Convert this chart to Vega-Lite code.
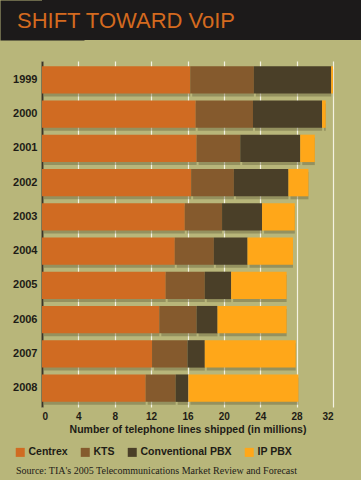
{
  "$schema": "https://vega.github.io/schema/vega-lite/v6.json",
  "background": "#b8b67a",
  "padding": {"left": 0, "top": 0, "right": 0, "bottom": 4},
  "config": {
    "view": {"stroke": null},
    "font": "Liberation Sans"
  },
  "columns": 1,
  "spacing": 21,
  "title": {
    "text": "Source: TIA's 2005 Telecommunications Market Review and Forecast",
    "orient": "bottom",
    "anchor": "start",
    "frame": "bounds",
    "font": "Liberation Serif",
    "fontSize": 10,
    "fontWeight": "normal",
    "color": "#222018",
    "dx": 16,
    "offset": 8
  },
  "concat": [
    {
      "width": 319,
      "height": 40,
      "data": {"values": [{"band": "header"}]},
      "mark": {"type": "rect", "color": "#1c1a1a"},
      "encoding": {
        "y": {
          "field": "band",
          "type": "nominal",
          "scale": {"paddingInner": 0, "paddingOuter": 0},
          "axis": {
            "title": null,
            "labels": false,
            "ticks": false,
            "domain": true,
            "domainColor": "#1c1a1a",
            "domainWidth": 84,
            "minExtent": 42,
            "maxExtent": 42,
            "zindex": 0
          }
        }
      },
      "title": {
        "text": "SHIFT TOWARD VoIP",
        "anchor": "start",
        "frame": "group",
        "font": "Liberation Sans",
        "fontSize": 22,
        "fontWeight": "normal",
        "color": "#d46a1f",
        "offset": -33,
        "dx": -25,
        "zindex": 2
      }
    },
    {
      "width": 291,
      "height": 346,
      "data": {
        "values": [
          {"year": "1999", "type": "Centrex", "start": 0, "end": 16.3},
          {"year": "1999", "type": "KTS", "start": 16.3, "end": 23.3},
          {"year": "1999", "type": "Conventional PBX", "start": 23.3, "end": 31.8},
          {"year": "1999", "type": "IP PBX", "start": 31.8, "end": 32.0},
          {"year": "2000", "type": "Centrex", "start": 0, "end": 16.9},
          {"year": "2000", "type": "KTS", "start": 16.9, "end": 23.2},
          {"year": "2000", "type": "Conventional PBX", "start": 23.2, "end": 30.8},
          {"year": "2000", "type": "IP PBX", "start": 30.8, "end": 31.2},
          {"year": "2001", "type": "Centrex", "start": 0, "end": 17.0},
          {"year": "2001", "type": "KTS", "start": 17.0, "end": 21.8},
          {"year": "2001", "type": "Conventional PBX", "start": 21.8, "end": 28.4},
          {"year": "2001", "type": "IP PBX", "start": 28.4, "end": 30.0},
          {"year": "2002", "type": "Centrex", "start": 0, "end": 16.4},
          {"year": "2002", "type": "KTS", "start": 16.4, "end": 21.1},
          {"year": "2002", "type": "Conventional PBX", "start": 21.1, "end": 27.1},
          {"year": "2002", "type": "IP PBX", "start": 27.1, "end": 29.3},
          {"year": "2003", "type": "Centrex", "start": 0, "end": 15.7},
          {"year": "2003", "type": "KTS", "start": 15.7, "end": 19.8},
          {"year": "2003", "type": "Conventional PBX", "start": 19.8, "end": 24.2},
          {"year": "2003", "type": "IP PBX", "start": 24.2, "end": 27.8},
          {"year": "2004", "type": "Centrex", "start": 0, "end": 14.6},
          {"year": "2004", "type": "KTS", "start": 14.6, "end": 18.9},
          {"year": "2004", "type": "Conventional PBX", "start": 18.9, "end": 22.6},
          {"year": "2004", "type": "IP PBX", "start": 22.6, "end": 27.6},
          {"year": "2005", "type": "Centrex", "start": 0, "end": 13.6},
          {"year": "2005", "type": "KTS", "start": 13.6, "end": 17.9},
          {"year": "2005", "type": "Conventional PBX", "start": 17.9, "end": 20.8},
          {"year": "2005", "type": "IP PBX", "start": 20.8, "end": 26.9},
          {"year": "2006", "type": "Centrex", "start": 0, "end": 12.9},
          {"year": "2006", "type": "KTS", "start": 12.9, "end": 17.0},
          {"year": "2006", "type": "Conventional PBX", "start": 17.0, "end": 19.3},
          {"year": "2006", "type": "IP PBX", "start": 19.3, "end": 26.9},
          {"year": "2007", "type": "Centrex", "start": 0, "end": 12.1},
          {"year": "2007", "type": "KTS", "start": 12.1, "end": 16.0},
          {"year": "2007", "type": "Conventional PBX", "start": 16.0, "end": 17.9},
          {"year": "2007", "type": "IP PBX", "start": 17.9, "end": 27.9},
          {"year": "2008", "type": "Centrex", "start": 0, "end": 11.4},
          {"year": "2008", "type": "KTS", "start": 11.4, "end": 14.7},
          {"year": "2008", "type": "Conventional PBX", "start": 14.7, "end": 16.1},
          {"year": "2008", "type": "IP PBX", "start": 16.1, "end": 28.2}
        ]
      },
      "encoding": {
        "y": {
          "field": "year",
          "type": "nominal",
          "scale": {"paddingInner": 0.2, "paddingOuter": 0.15},
          "axis": {
            "title": null,
            "ticks": false,
            "domain": true,
            "domainColor": "#3b3526",
            "domainWidth": 2,
            "labelFont": "Liberation Sans",
            "labelFontSize": 11,
            "labelFontWeight": "bold",
            "labelColor": "#1e1c16",
            "labelPadding": 5,
            "minExtent": 42,
            "maxExtent": 42
          }
        },
        "x": {
          "field": "start",
          "type": "quantitative",
          "scale": {"domain": [0, 32], "nice": false},
          "axis": {
            "title": "Number of telephone lines shipped (in millions)",
            "values": [0, 4, 8, 12, 16, 20, 24, 28, 32],
            "labelOverlap": false,
            "grid": true,
            "gridColor": "#f4f2e2",
            "gridWidth": 1.2,
            "gridOpacity": 1,
            "ticks": false,
            "domain": false,
            "labelFont": "Liberation Sans",
            "labelFontSize": 10,
            "labelFontWeight": "bold",
            "labelColor": "#1e1c16",
            "labelPadding": 4,
            "titleFont": "Liberation Sans",
            "titleFontSize": 10.5,
            "titleFontWeight": "bold",
            "titleColor": "#1e1c16",
            "titlePadding": 3
          }
        },
        "x2": {"field": "end"}
      },
      "layer": [
        {
          "mark": {"type": "bar", "color": "#5e5b38", "opacity": 0.4, "yOffset": 3, "xOffset": 2}
        },
        {
          "mark": {"type": "bar"},
          "encoding": {
            "color": {
              "field": "type",
              "type": "nominal",
              "scale": {
                "domain": ["Centrex", "KTS", "Conventional PBX", "IP PBX"],
                "range": ["#d06b22", "#855a2d", "#4a3f28", "#ffa719"]
              },
              "legend": {
                "title": null,
                "orient": "none",
                "legendX": -27,
                "legendY": 447,
                "direction": "horizontal",
                "symbolType": "square",
                "symbolSize": 81,
                "symbolStrokeWidth": 0,
                "symbolOpacity": 1,
                "labelFont": "Liberation Sans",
                "labelFontSize": 10.5,
                "labelFontWeight": "bold",
                "labelColor": "#1e1c16",
                "labelOffset": 3,
                "columnPadding": 12,
                "padding": 0
              }
            }
          }
        }
      ]
    }
  ]
}
